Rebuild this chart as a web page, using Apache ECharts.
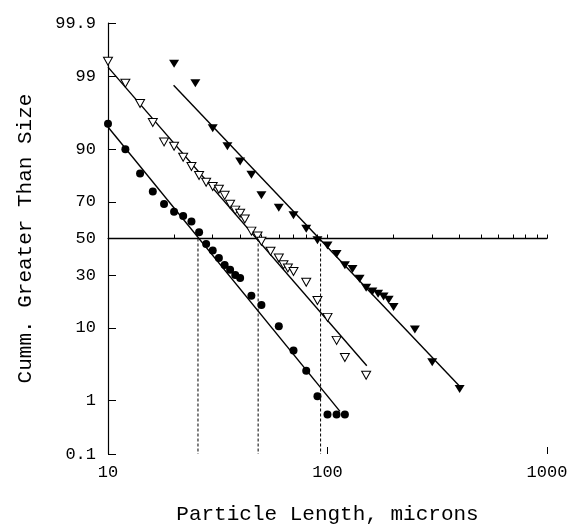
<!DOCTYPE html>
<html>
<head>
<meta charset="utf-8">
<script src="https://cdn.jsdelivr.net/npm/echarts@6/dist/echarts.min.js"></script>
<style>
  html, body { margin: 0; padding: 0; background: #fff; }
  #chart { width: 569px; height: 525px; }
</style>
</head>
<body>
<div id="chart"></div>
<script>
// particle size distributions on log-probability paper

// filled circles
var circleSize = [10, 12, 14, 16, 18, 20, 22, 24, 26, 28, 30, 32, 34, 36, 38, 40, 45, 50, 60, 70, 80, 90, 100, 110, 120];
var circlePct = [95.0, 90.0, 82.4, 75.0, 69.0, 64.9, 62.6, 59.6, 53.6, 46.9, 43.1, 39.0, 35.2, 32.7, 30.0, 28.5, 20.6, 17.0, 10.4, 5.4, 2.9, 1.18, 0.58, 0.58, 0.58];

// open triangles
var openTriSize = [10, 12, 14, 16, 18, 20, 22, 24, 26, 28, 30, 32, 34, 36, 38, 40, 42, 45, 48, 50, 55, 60, 63, 66, 70, 80, 90, 100, 110, 120, 150];
var openTriPct = [99.45, 98.7, 97.35, 95.2, 91.7, 90.7, 87.8, 84.9, 81.7, 79.0, 77.2, 76.0, 73.2, 68.8, 65.8, 64.1, 61.0, 54.2, 51.4, 48.4, 42.8, 39.0, 35.3, 33.6, 31.8, 26.5, 18.7, 12.9, 7.2, 4.4, 2.5];

// filled triangles
var fillTriSize = [20, 25, 30, 35, 40, 45, 50, 60, 70, 80, 90, 100, 110, 120, 130, 140, 150, 160, 170, 180, 190, 200, 250, 300, 400];
var fillTriPct = [99.39, 98.7, 94.3, 90.7, 86.5, 82.0, 73.2, 67.0, 63.1, 55.6, 49.0, 46.0, 41.2, 35.1, 33.1, 28.2, 24.0, 22.4, 21.4, 20.3, 19.0, 16.3, 9.6, 3.8, 1.54];

// fitted lines (end points)
var fitCircleSize = [10, 114];
var fitCirclePct = [94.5, 0.66];
var fitOpenSize = [10, 151];
var fitOpenPct = [99.3, 3.4];
var fitFillSize = [19.9, 400];
var fitFillPct = [98.6, 1.7];

// median sizes (dotted drops from the 50% line)
var medianSize = [25.7, 48.3, 93];
var medianPct = 50;

var xMin = 10;
var xMax = 1000;
var xLabelTicks = [10, 100, 1000];
var xMinorTicks = [10, 20, 30, 40, 50, 60, 70, 80, 90, 100, 200, 300, 400, 500, 600, 700, 800, 900, 1000];
var yTicks = [0.1, 1, 10, 30, 50, 70, 90, 99, 99.9];

var fontName = 'Liberation Mono';

// inverse normal cdf (Acklam), percent -> probability axis position
function probit(p) {
    var a = [-3.969683028665376e+01, 2.209460984245205e+02, -2.759285104469687e+02, 1.383577518672690e+02, -3.066479806614716e+01, 2.506628277459239e+00];
    var b = [-5.447609879822406e+01, 1.615858368580409e+02, -1.556989798598866e+02, 6.680131188771972e+01, -1.328068155288572e+01];
    var c = [-7.784894002430293e-03, -3.223964580411365e-01, -2.400758277161838e+00, -2.549732539343734e+00, 4.374664141464968e+00, 2.938163982698783e+00];
    var d = [7.784695709041462e-03, 3.224671290700398e-01, 2.445134137142996e+00, 3.754408661907416e+00];
    var pl = 0.02425, q, r;
    if (p < pl) {
        q = Math.sqrt(-2 * Math.log(p));
        return (((((c[0] * q + c[1]) * q + c[2]) * q + c[3]) * q + c[4]) * q + c[5]) / ((((d[0] * q + d[1]) * q + d[2]) * q + d[3]) * q + 1);
    }
    if (p > 1 - pl) {
        q = Math.sqrt(-2 * Math.log(1 - p));
        return -(((((c[0] * q + c[1]) * q + c[2]) * q + c[3]) * q + c[4]) * q + c[5]) / ((((d[0] * q + d[1]) * q + d[2]) * q + d[3]) * q + 1);
    }
    q = p - 0.5;
    r = q * q;
    return (((((a[0] * r + a[1]) * r + a[2]) * r + a[3]) * r + a[4]) * r + a[5]) * q / (((((b[0] * r + b[1]) * r + b[2]) * r + b[3]) * r + b[4]) * r + 1);
}
function z(pct) {
    return probit(pct / 100);
}
function pairs(xs, pcts) {
    var out = [];
    for (var i = 0; i < xs.length; i++) {
        out.push([xs[i], z(pcts[i])]);
    }
    return out;
}

var yMin = z(yTicks[0]);
var yMax = z(yTicks[yTicks.length - 1]);
var yTickPos = yTicks.map(z);

var medianLine = [[xMin, z(medianPct)], [xMax, z(medianPct)]];
var dropSeries = medianSize.map(function (s) {
    return {
        type: 'line',
        data: [[s, z(medianPct)], [s, yMin]],
        showSymbol: false,
        silent: true,
        z: 1,
        lineStyle: { color: '#000', width: 1, type: [3, 2] }
    };
});

var chart = echarts.init(document.getElementById('chart'), null, { renderer: 'canvas' });
chart.setOption({
    animation: false,
    backgroundColor: '#fff',
    grid: {
        left: 108,
        right: 22,
        top: 23,
        bottom: 71,
        outerBoundsMode: 'none'
    },
    xAxis: [{
        type: 'log',
        logBase: 10,
        min: xMin,
        max: xMax,
        position: 'bottom',
        name: 'Particle Length, microns',
        nameLocation: 'middle',
        nameGap: 50,
        nameTextStyle: { fontFamily: fontName, fontSize: 21, color: '#000' },
        axisLine: { show: true, lineStyle: { color: '#000', width: 1.2 } },
        axisTick: { show: true, inside: true, length: 4, customValues: xMinorTicks, lineStyle: { color: '#000', width: 1 } },
        minorTick: { show: false },
        axisLabel: {
            show: true,
            customValues: xLabelTicks,
            margin: 10,
            fontFamily: fontName,
            fontSize: 17,
            color: '#000',
            formatter: function (v) {
                return String(Math.round(v));
            }
        },
        splitLine: { show: false }
    }, {
        type: 'log',
        logBase: 10,
        min: xMin,
        max: xMax,
        position: 'bottom',
        axisLine: { show: false },
        axisTick: { show: true, inside: true, length: 7, customValues: xLabelTicks, lineStyle: { color: '#000', width: 1 } },
        axisLabel: { show: false },
        splitLine: { show: false }
    }],
    yAxis: {
        type: 'value',
        min: yMin,
        max: yMax,
        name: 'Cumm. Greater Than Size',
        nameLocation: 'middle',
        nameGap: 72,
        nameTextStyle: { fontFamily: fontName, fontSize: 21, color: '#000' },
        axisLine: { show: true, lineStyle: { color: '#000', width: 1.2 } },
        axisTick: { show: true, inside: true, length: 8, customValues: yTickPos, lineStyle: { color: '#000', width: 1 } },
        axisLabel: {
            show: true,
            customValues: yTickPos,
            margin: 12,
            fontFamily: fontName,
            fontSize: 17,
            color: '#000',
            formatter: function (v) {
                for (var i = 0; i < yTicks.length; i++) {
                    if (Math.abs(yTickPos[i] - v) < 1e-6) {
                        return String(yTicks[i]);
                    }
                }
                return '';
            }
        },
        splitLine: { show: false }
    },
    series: [{
        type: 'line',
        data: medianLine,
        showSymbol: false,
        silent: true,
        z: 1,
        lineStyle: { color: '#000', width: 1.3 }
    }, {
        type: 'line',
        data: pairs(fitCircleSize, fitCirclePct),
        showSymbol: false,
        z: 2,
        lineStyle: { color: '#000', width: 1.4 }
    }, {
        type: 'line',
        data: pairs(fitOpenSize, fitOpenPct),
        showSymbol: false,
        z: 2,
        lineStyle: { color: '#000', width: 1.4 }
    }, {
        type: 'line',
        data: pairs(fitFillSize, fitFillPct),
        showSymbol: false,
        z: 2,
        lineStyle: { color: '#000', width: 1.4 }
    }, {
        type: 'scatter',
        data: pairs(circleSize, circlePct),
        symbol: 'circle',
        symbolSize: 8,
        z: 3,
        itemStyle: { color: '#000', opacity: 1 }
    }, {
        type: 'scatter',
        data: pairs(openTriSize, openTriPct),
        symbol: 'triangle',
        symbolRotate: 180,
        symbolSize: [9, 8],
        z: 3,
        itemStyle: { color: '#fff', borderColor: '#000', borderWidth: 1, opacity: 1 }
    }, {
        type: 'scatter',
        data: pairs(fillTriSize, fillTriPct),
        symbol: 'triangle',
        symbolRotate: 180,
        symbolSize: [10, 8],
        z: 3,
        itemStyle: { color: '#000', opacity: 1 }
    }].concat(dropSeries)
});
</script>
</body>
</html>
